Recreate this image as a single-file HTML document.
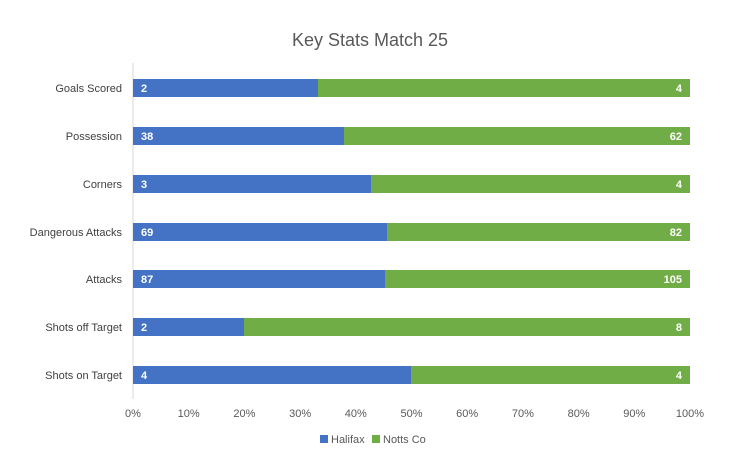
<!DOCTYPE html>
<html><head><meta charset="utf-8"><style>body{margin:0;background:#fff}</style></head><body>
<svg width="740" height="471" xmlns="http://www.w3.org/2000/svg" font-family="Liberation Sans, sans-serif">
<rect width="740" height="471" fill="#fff"/>
<text x="370" y="46" text-anchor="middle" font-size="18" fill="#595959">Key Stats Match 25</text>
<line x1="133" y1="63" x2="133" y2="399" stroke="#d9d9d9"/>
<g font-size="11" fill="#404040" text-anchor="end">
<text x="122" y="92">Goals Scored</text>
<text x="122" y="140">Possession</text>
<text x="122" y="188">Corners</text>
<text x="122" y="236">Dangerous Attacks</text>
<text x="122" y="283">Attacks</text>
<text x="122" y="331">Shots off Target</text>
<text x="122" y="379">Shots on Target</text>
</g>
<g>
<rect x="133" y="79" width="185" height="18" fill="#4472C4"/><rect x="318" y="79" width="372" height="18" fill="#70AD47"/>
<rect x="133" y="127" width="211" height="18" fill="#4472C4"/><rect x="344" y="127" width="346" height="18" fill="#70AD47"/>
<rect x="133" y="175" width="238" height="18" fill="#4472C4"/><rect x="371" y="175" width="319" height="18" fill="#70AD47"/>
<rect x="133" y="223" width="254" height="18" fill="#4472C4"/><rect x="387" y="223" width="303" height="18" fill="#70AD47"/>
<rect x="133" y="270" width="252" height="18" fill="#4472C4"/><rect x="385" y="270" width="305" height="18" fill="#70AD47"/>
<rect x="133" y="318" width="111" height="18" fill="#4472C4"/><rect x="244" y="318" width="446" height="18" fill="#70AD47"/>
<rect x="133" y="366" width="278" height="18" fill="#4472C4"/><rect x="411" y="366" width="279" height="18" fill="#70AD47"/>
</g>
<g font-size="11" font-weight="bold" fill="#fff">
<text x="141" y="92">2</text><text x="141" y="140">38</text><text x="141" y="188">3</text><text x="141" y="236">69</text><text x="141" y="283">87</text><text x="141" y="331">2</text><text x="141" y="379">4</text>
</g>
<g font-size="11" font-weight="bold" fill="#fff" text-anchor="end">
<text x="682" y="92">4</text><text x="682" y="140">62</text><text x="682" y="188">4</text><text x="682" y="236">82</text><text x="682" y="283">105</text><text x="682" y="331">8</text><text x="682" y="379">4</text>
</g>
<g font-size="11" fill="#595959" text-anchor="middle">
<text x="133" y="417">0%</text><text x="188.7" y="417">10%</text><text x="244.4" y="417">20%</text><text x="300.1" y="417">30%</text><text x="355.8" y="417">40%</text><text x="411.5" y="417">50%</text><text x="467.2" y="417">60%</text><text x="522.9" y="417">70%</text><text x="578.6" y="417">80%</text><text x="634.3" y="417">90%</text><text x="690" y="417">100%</text>
</g>
<rect x="320" y="435" width="8" height="8" fill="#4472C4"/>
<text x="331" y="443" font-size="11" fill="#595959">Halifax</text>
<rect x="372" y="435" width="8" height="8" fill="#70AD47"/>
<text x="383" y="443" font-size="11" fill="#595959">Notts Co</text>
</svg>
</body></html>
